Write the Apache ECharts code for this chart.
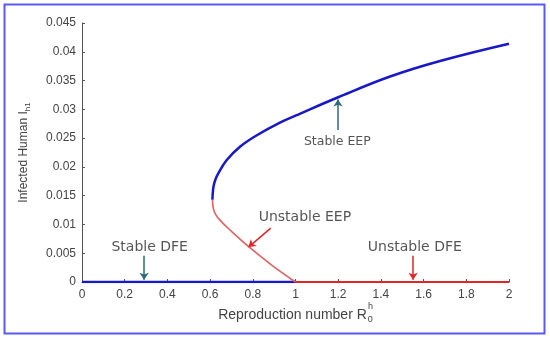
<!DOCTYPE html>
<html>
<head>
<meta charset="utf-8">
<script src="https://cdn.jsdelivr.net/npm/echarts@6/dist/echarts.min.js"></script>
<style>
html,body{margin:0;padding:0;background:#fff;}
#c{width:550px;height:339px;}
</style>
</head>
<body>
<div id="c"></div>
<script>
// ---- data ----
const xTicks = [0, 0.2, 0.4, 0.6, 0.8, 1, 1.2, 1.4, 1.6, 1.8, 2];
const yTicks = [0, 0.005, 0.01, 0.015, 0.02, 0.025, 0.03, 0.035, 0.04, 0.045];

const stableDFE = [[0, 0], [1, 0]];
const unstableDFE = [[1, 0], [2, 0]];
const stableEEP = [
  [0.611, 0.0143], [0.612, 0.0152], [0.616, 0.0166], [0.625, 0.0178],
  [0.639, 0.0189], [0.678, 0.0212], [0.74, 0.0235], [0.819, 0.0255],
  [0.927, 0.0277], [1.0, 0.0289], [1.2, 0.0321], [1.443, 0.0357],
  [1.677, 0.0384], [2.0, 0.0414]
];
const unstableEEP = [
  [0.611, 0.0143], [0.615, 0.0128], [0.625, 0.0118], [0.647, 0.0107],
  [0.70, 0.0088], [0.782, 0.0061], [0.89, 0.0029], [1.0, 0.0]
];

// annotation labels
const labelTexts = ['Stable EEP', 'Unstable EEP', 'Stable DFE', 'Unstable DFE'];
const labelPos = [[1.196, 0.0243], [1.044, 0.01115], [0.317, 0.00595], [1.559, 0.0061]];
const labelSizes = [12.5, 14, 14, 14];
// arrows: [from, to]
const arrowsTeal = [
  [[1.199, 0.0264], [1.199, 0.0317]],
  [[0.291, 0.00456], [0.291, 0.0004]]
];
const arrowsRed = [
  [[0.884, 0.00936], [0.78, 0.00607]],
  [[1.551, 0.00456], [1.551, 0.0004]]
];

const chart = echarts.init(document.getElementById('c'));
const font = '"Liberation Sans", Arial, sans-serif';
const labelFont = '"DejaVu Sans", sans-serif';

chart.setOption({
  animation: false,
  backgroundColor: '#fff',
  grid: { left: 82, right: 41, top: 23, bottom: 57 },
  xAxis: {
    type: 'value', min: 0, max: 2, interval: 0.2,
    name: 'Reproduction number R{s|0}',
    nameLocation: 'middle', nameGap: 24,
    nameTextStyle: {
      fontFamily: font, fontSize: 14, color: '#444',
      rich: { s: { fontFamily: font, fontSize: 9, color: '#444', padding: [9, 0, 0, 1] } }
    },
    axisLine: { lineStyle: { color: '#555', width: 1 } },
    axisTick: { inside: true, length: 3, lineStyle: { color: '#555' } },
    axisLabel: { fontFamily: font, fontSize: 12, color: '#444', margin: 7 },
    splitLine: { show: false }
  },
  yAxis: {
    type: 'value', min: 0, max: 0.045, interval: 0.005,
    name: 'Infected Human I{s|h1}',
    nameLocation: 'middle', nameGap: 50,
    nameTextStyle: {
      fontFamily: font, fontSize: 12, color: '#444',
      rich: { s: { fontFamily: font, fontSize: 8, color: '#444', padding: [8, 0, 0, 0] } }
    },
    axisLine: { show: true, lineStyle: { color: '#555', width: 1 } },
    axisTick: { show: true, inside: true, length: 3, lineStyle: { color: '#555' } },
    axisLabel: { fontFamily: font, fontSize: 12, color: '#444', margin: 6,
      formatter: v => String(+v.toFixed(3)) },
    splitLine: { show: false }
  },
  graphic: [
    { type: 'rect', shape: { x: 4.5, y: 4.5, width: 540, height: 329 },
      style: { fill: 'none', stroke: '#5a5af2', lineWidth: 2 }, z: 100 },
    { type: 'text', x: 368, y: 302, style: { text: 'h', font: '9px ' + font, fill: '#444' } }
  ],
  series: [
    { type: 'line', data: stableDFE, symbol: 'none', lineStyle: { color: '#1818c8', width: 2.5 }, z: 3 },
    { type: 'line', data: unstableDFE, symbol: 'none', lineStyle: { color: '#e0262a', width: 2.2 }, z: 3 },
    { type: 'line', data: stableEEP, symbol: 'none', smooth: 0.4, lineStyle: { color: '#1818c8', width: 2.5 }, z: 3 },
    { type: 'line', data: unstableEEP, symbol: 'none', smooth: 0.4, lineStyle: { color: '#e06262', width: 1.6 }, z: 3,
      markLine: {
        silent: true, symbol: ['none', 'arrow'], symbolSize: 7, label: { show: false },
        data: arrowsTeal.map(a => [
          { coord: a[0], lineStyle: { color: '#2f6a7a', width: 1.5, type: 'solid' } },
          { coord: a[1] }
        ]).concat(arrowsRed.map(a => [
          { coord: a[0], lineStyle: { color: '#e0262a', width: 1.5, type: 'solid' } },
          { coord: a[1] }
        ]))
      }
    },
    { type: 'scatter', symbolSize: 0, silent: true, z: 5,
      data: labelTexts.map((t, i) => ({ value: labelPos[i], name: t,
        label: { show: true, position: 'inside', formatter: t, fontFamily: labelFont,
          fontSize: labelSizes[i], color: '#2a2a2a' } })) }
  ]
});
</script>
</body>
</html>
